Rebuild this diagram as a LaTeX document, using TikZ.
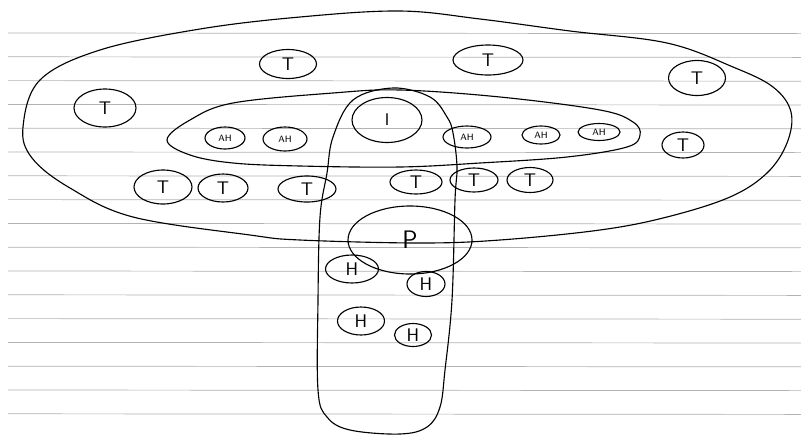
\documentclass[tikz,border=0pt]{standalone}
\usetikzlibrary{shapes.geometric}

\begin{document}
\begin{tikzpicture}[x=0.025cm, y=-0.025cm, line width=0.8pt,
  blob/.style 2 args={ellipse, draw, inner sep=0pt,
    minimum width=#1*0.025cm, minimum height=#2*0.025cm},
  tlab/.style={font=\sffamily\fontsize{13}{13}\selectfont},
  ahlab/.style={font=\sffamily\fontsize{6.5}{6.5}\selectfont},
  hlab/.style={font=\sffamily\fontsize{13}{13}\selectfont},
]
  \useasboundingbox (0,0) rectangle (801,436);
  \fill[white] (0,0) rectangle (801,436);
  % ruled paper
  \foreach \k in {0,...,16}
    \draw[gray!60, line width=0.5pt] (8,33+23.8*\k) -- (801,33.6+23.8*\k);

  % outer region
  \draw[smooth cycle, tension=0.6] plot coordinates {(23,127) (40,80) (100,50)
    (200,29) (300,17) (400,11) (480,19) (570,31) (667,43) (733,67) (773,87)
    (791,112) (787,143) (767,173) (730,197) (667,217) (600,230) (500,240)
    (420,243) (300,240) (250,235) (133,217) (70,188) (32,158)};
  % inner band
  \draw[smooth cycle, tension=0.6] plot coordinates {(167,140) (190,120)
    (233,103) (333,93) (400,90) (500,97) (600,110) (633,122) (640,135)
    (627,147) (567,157) (480,163) (400,167) (300,166) (233,163) (190,155)};
  % vertical band
  \draw[smooth cycle, tension=0.6] plot coordinates {(393,88) (430,97)
    (447,117) (453,133) (457,167) (455,200) (452,300) (445,370) (440,407)
    (427,427) (400,434) (350,430) (327,417) (318,390) (318,300) (320,217)
    (327,173) (333,137) (353,100)};

  % T nodes
  \node[blob={62}{38}, tlab] (t1) at (105,108) {T};
  \node[blob={57}{29}, tlab] (t2) at (288,64) {T};
  \node[blob={70}{30}, tlab] (t3) at (488,60) {T};
  \node[blob={57}{35}, tlab] (t4) at (697,78) {T};
  \node[blob={42}{26}, tlab] (t5) at (683,145) {T};
  \node[blob={58}{34}, tlab] (t6) at (163,187) {T};
  \node[blob={50}{28}, tlab] (t7) at (223,188) {T};
  \node[blob={58}{26}, tlab] (t8) at (307,189) {T};
  \node[blob={52}{24}, tlab] (t9) at (416,182) {T};
  \node[blob={48}{24}, tlab] (t10) at (474,180) {T};
  \node[blob={46}{25}, tlab] (t11) at (530,180) {T};

  % AH nodes
  \node[blob={40}{22}, ahlab] (ah1) at (225,138) {AH};
  \node[blob={44}{24}, ahlab] (ah2) at (285,139) {AH};
  \node[blob={48}{22}, ahlab] (ah3) at (467,137) {AH};
  \node[blob={38}{18}, ahlab] (ah4) at (541,135) {AH};
  \node[blob={42}{17}, ahlab] (ah5) at (599,132) {AH};

  \node[blob={70}{45}, font=\sffamily\fontsize{12}{12}\selectfont] (i) at (387,120) {I};
  \node[blob={124}{68}, font=\sffamily\fontsize{18}{18}\selectfont] (p) at (410,240) {P};

  % H nodes
  \node[blob={53}{28}, hlab] (h1) at (352,269) {H};
  \node[blob={38}{25}, hlab] (h2) at (426,284) {H};
  \node[blob={47}{28}, hlab] (h3) at (361,321) {H};
  \node[blob={37}{23}, hlab] (h4) at (413,335) {H};
\end{tikzpicture}
\end{document}
